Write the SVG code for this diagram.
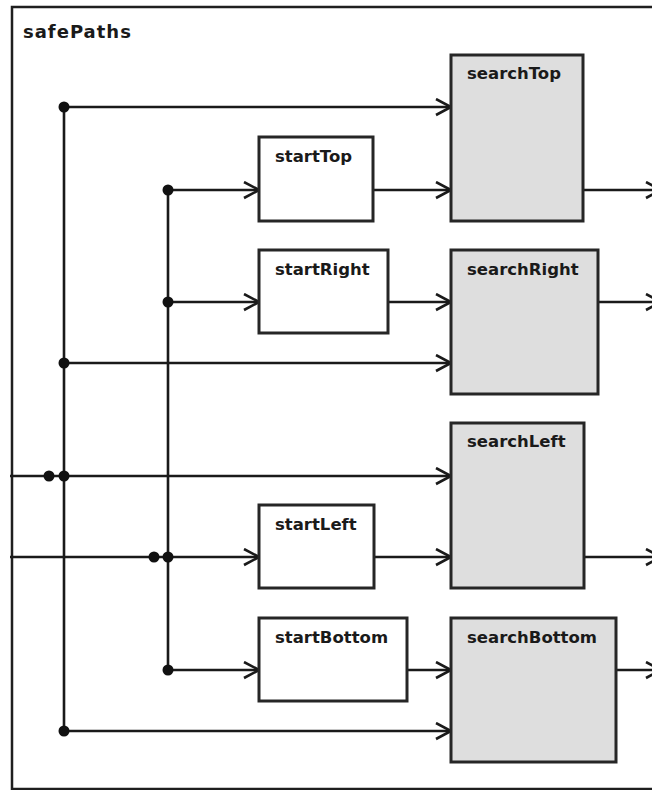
<svg xmlns="http://www.w3.org/2000/svg" width="652" height="790" viewBox="0 0 652 790">
  <defs>
    <marker id="open" markerUnits="userSpaceOnUse" markerWidth="20" markerHeight="20" refX="16" refY="9" orient="auto">
      <path d="M1,1 L16,9 L1,17" fill="none" stroke="#1a1a1a" stroke-width="2.6"/>
    </marker>
    <style>
      .frame { fill: #ffffff; stroke: #1f1f1f; stroke-width: 2.5; }
      .start { fill: #ffffff; stroke: #262626; stroke-width: 3; }
      .search { fill: #dedede; stroke: #262626; stroke-width: 3; }
      .lbl { font-family: "DejaVu Sans", Verdana, sans-serif; font-weight: bold; font-size: 16.5px; fill: #1a1a1a; }
      .title { font-family: "DejaVu Sans", Verdana, sans-serif; font-weight: bold; font-size: 18px; letter-spacing: 1px; fill: #1a1a1a; }
      .wire { fill: none; stroke: #1a1a1a; stroke-width: 2.6; }
      .arrow { fill: none; stroke: #1a1a1a; stroke-width: 2.6; marker-end: url(#open); }
      .dot { fill: #111111; }
    </style>
  </defs>

  <g id="safePaths">
    <rect class="frame" x="12" y="7" width="660" height="782"/>
    <text class="title" x="23" y="37.5">safePaths</text>
  </g>

  <g id="connectors">
    <!-- distribution buses -->
    <path class="wire" d="M64,107 V731"/>
    <path class="wire" d="M168,190 V670"/>
    <!-- outer bus to search blocks -->
    <path class="arrow" d="M64,107 H451"/>
    <path class="arrow" d="M64,363 H451"/>
    <path class="arrow" d="M10,476 H451"/>
    <path class="arrow" d="M64,731 H451"/>
    <!-- inner bus to start blocks -->
    <path class="arrow" d="M168,190 H259"/>
    <path class="arrow" d="M168,302 H259"/>
    <path class="arrow" d="M10,557 H259"/>
    <path class="arrow" d="M168,670 H259"/>
    <!-- start blocks to search blocks -->
    <path class="arrow" d="M373,190 H451"/>
    <path class="arrow" d="M388,302 H451"/>
    <path class="arrow" d="M374,557 H451"/>
    <path class="arrow" d="M407,670 H451"/>
    <!-- outputs -->
    <path class="arrow" d="M583,190 H661"/>
    <path class="arrow" d="M598,302 H661"/>
    <path class="arrow" d="M584,557 H661"/>
    <path class="arrow" d="M616,670 H661"/>
    <!-- junctions -->
    <circle class="dot" cx="64" cy="107" r="5.5"/>
    <circle class="dot" cx="64" cy="363" r="5.5"/>
    <circle class="dot" cx="49" cy="476" r="5.5"/>
    <circle class="dot" cx="64" cy="476" r="5.5"/>
    <circle class="dot" cx="64" cy="731" r="5.5"/>
    <circle class="dot" cx="168" cy="190" r="5.5"/>
    <circle class="dot" cx="168" cy="302" r="5.5"/>
    <circle class="dot" cx="154" cy="557" r="5.5"/>
    <circle class="dot" cx="168" cy="557" r="5.5"/>
    <circle class="dot" cx="168" cy="670" r="5.5"/>
  </g>

  <g id="startTop">
    <rect class="start" x="259" y="137" width="114" height="84"/>
    <text class="lbl" x="275" y="162">startTop</text>
  </g>
  <g id="startRight">
    <rect class="start" x="259" y="250" width="129" height="83"/>
    <text class="lbl" x="275" y="275">startRight</text>
  </g>
  <g id="startLeft">
    <rect class="start" x="259" y="505" width="115" height="83"/>
    <text class="lbl" x="275" y="530">startLeft</text>
  </g>
  <g id="startBottom">
    <rect class="start" x="259" y="618" width="148" height="83"/>
    <text class="lbl" x="275" y="643">startBottom</text>
  </g>

  <g id="searchTop">
    <rect class="search" x="451" y="55" width="132" height="166"/>
    <text class="lbl" x="467" y="79">searchTop</text>
  </g>
  <g id="searchRight">
    <rect class="search" x="451" y="250" width="147" height="144"/>
    <text class="lbl" x="467" y="275">searchRight</text>
  </g>
  <g id="searchLeft">
    <rect class="search" x="451" y="423" width="133" height="165"/>
    <text class="lbl" x="467" y="447">searchLeft</text>
  </g>
  <g id="searchBottom">
    <rect class="search" x="451" y="618" width="165" height="144"/>
    <text class="lbl" x="467" y="643">searchBottom</text>
  </g>
</svg>
